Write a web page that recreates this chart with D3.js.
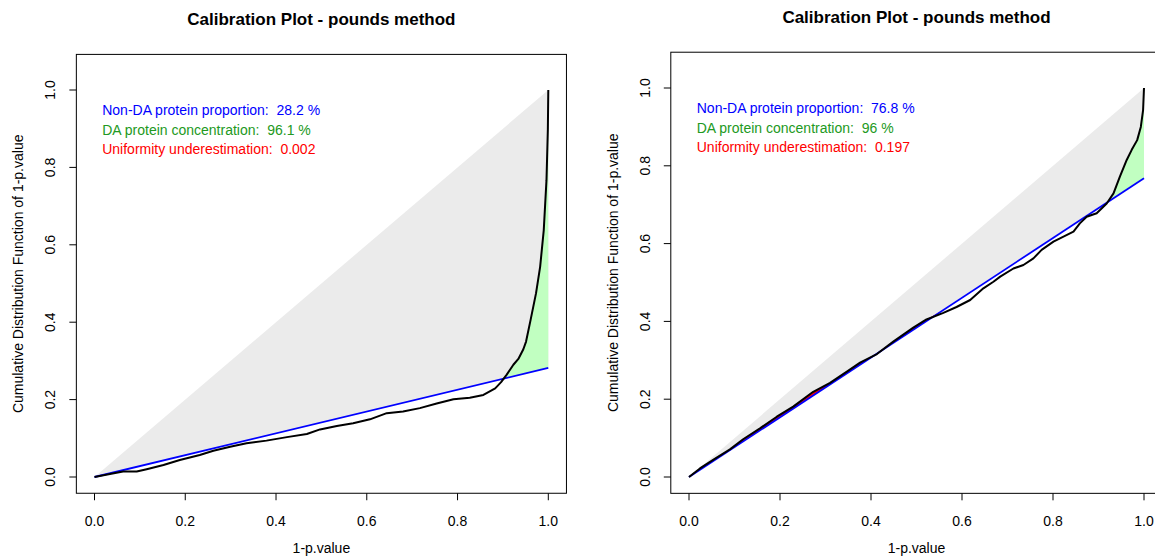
<!DOCTYPE html>
<html>
<head>
<meta charset="utf-8">
<script src="https://cdn.jsdelivr.net/npm/d3@7"></script>
<style>
  body { margin: 0; background: #fff; }
  svg text { font-family: "Liberation Sans", Arial, sans-serif; white-space: pre; }
</style>
</head>
<body>
<svg width="1155" height="559"></svg>
<script>
// values
var titles = ["Calibration Plot - pounds method", "Calibration Plot - pounds method"];
var pi0 = [0.282, 0.768];
var legendLines = [
    ["Non-DA protein proportion:  28.2 %", "DA protein concentration:  96.1 %", "Uniformity underestimation:  0.002"],
    ["Non-DA protein proportion:  76.8 %", "DA protein concentration:  96 %", "Uniformity underestimation:  0.197"]
];
var tickValues = [0, 0.2, 0.4, 0.6, 0.8, 1.0];

// cumulative distribution of 1-p.value (left)
var leftX = [0, 0.034, 0.063, 0.093, 0.115, 0.152, 0.188, 0.232, 0.262, 0.299, 0.335, 0.379, 0.424, 0.468, 0.497,
    0.534, 0.570, 0.607, 0.644, 0.680, 0.717, 0.754, 0.791, 0.827, 0.857, 0.883, 0.896, 0.908, 0.923, 0.934, 0.945,
    0.951, 0.961, 0.973, 0.982, 0.990, 0.996, 0.999, 1.0];
var leftY = [0, 0.008, 0.014, 0.014, 0.020, 0.031, 0.044, 0.057, 0.068, 0.078, 0.087, 0.094, 0.103, 0.111, 0.123,
    0.132, 0.139, 0.149, 0.165, 0.169, 0.178, 0.190, 0.201, 0.205, 0.212, 0.229, 0.245, 0.264, 0.290, 0.305, 0.330,
    0.350, 0.406, 0.475, 0.543, 0.638, 0.767, 0.897, 1.0];

// cumulative distribution of 1-p.value (right)
var rightX = [0, 0.024, 0.053, 0.09, 0.119, 0.156, 0.193, 0.229, 0.273, 0.31, 0.347, 0.376, 0.413, 0.449, 0.493,
    0.522, 0.559, 0.588, 0.618, 0.647, 0.669, 0.684, 0.713, 0.735, 0.757, 0.775, 0.801, 0.823, 0.845, 0.859, 0.874,
    0.896, 0.918, 0.933, 0.947, 0.962, 0.973, 0.985, 0.993, 0.998, 1.0];
var rightY = [0, 0.022, 0.044, 0.071, 0.097, 0.125, 0.155, 0.181, 0.219, 0.242, 0.271, 0.294, 0.316, 0.348, 0.384,
    0.405, 0.422, 0.437, 0.455, 0.485, 0.502, 0.515, 0.536, 0.545, 0.562, 0.584, 0.605, 0.618, 0.631, 0.652, 0.669,
    0.678, 0.703, 0.729, 0.772, 0.815, 0.841, 0.866, 0.9, 0.943, 1.0];

var panels = [
    { xr: [94.5, 548.3], yr: [477, 90], xs: leftX, ys: leftY },
    { xr: [689, 1144], yr: [477, 88], xs: rightX, ys: rightY }
];

var svg = d3.select("svg");
var legendColors = ["#0000ff", "#229922", "#ff0000"];

panels.forEach(function (p, i) {
    var x = d3.scaleLinear().domain([0, 1]).range(p.xr);
    var y = d3.scaleLinear().domain([0, 1]).range(p.yr);
    var g = svg.append("g");
    var pts = p.xs.map(function (v, k) { return { x: v, y: p.ys[k] }; });
    var blue = function (v) { return pi0[i] * v; };

    // grey zone between the diagonal and the pi0 line
    g.append("path")
        .attr("d", d3.line()([[x(0), y(0)], [x(1), y(1)], [x(1), y(pi0[i])]]) + "Z")
        .attr("fill", "#ebebeb");

    // green: curve above the pi0 line near 1; red: curve above it elsewhere
    var fill = function (keep) {
        return d3.area()
            .defined(function (d) { return keep(d.x); })
            .x(function (d) { return x(d.x); })
            .y0(function (d) { return y(blue(d.x)); })
            .y1(function (d) { return y(Math.max(d.y, blue(d.x))); });
    };
    g.append("path")
        .attr("d", fill(function (v) { return v >= 0.85; })(pts))
        .attr("fill", "#c1ffc1");
    g.append("path")
        .attr("d", fill(function (v) { return v <= 0.85; })(pts))
        .attr("fill", "#ff0000");

    g.append("line")
        .attr("x1", x(0)).attr("y1", y(0))
        .attr("x2", x(1)).attr("y2", y(pi0[i]))
        .attr("stroke", "#0000ff").attr("stroke-width", 1.8);

    g.append("path")
        .attr("d", d3.line().x(function (d) { return x(d.x); }).y(function (d) { return y(d.y); })(pts))
        .attr("fill", "none").attr("stroke", "#000").attr("stroke-width", 2)
        .attr("stroke-linejoin", "round");

    // box (R: 4% padding, ylim 0..1.05)
    var bx0 = x(-0.04), bx1 = x(1.04), by0 = y(-0.042), by1 = y(1.092);
    g.append("rect")
        .attr("x", bx0).attr("y", by1)
        .attr("width", bx1 - bx0).attr("height", by0 - by1)
        .attr("fill", "none").attr("stroke", "#000").attr("stroke-width", 1);

    // x axis
    tickValues.forEach(function (t) {
        g.append("line")
            .attr("x1", x(t)).attr("x2", x(t))
            .attr("y1", by0).attr("y2", by0 + 7)
            .attr("stroke", "#000");
        g.append("text")
            .attr("x", x(t)).attr("y", by0 + 33)
            .attr("text-anchor", "middle")
            .style("font-size", "14px")
            .text(d3.format(".1f")(t));
    });
    // y axis
    tickValues.forEach(function (t) {
        g.append("line")
            .attr("x1", bx0).attr("x2", bx0 - 7)
            .attr("y1", y(t)).attr("y2", y(t))
            .attr("stroke", "#000");
        g.append("text")
            .attr("transform", "translate(" + (bx0 - 21) + "," + y(t) + ") rotate(-90)")
            .attr("text-anchor", "middle")
            .style("font-size", "14px")
            .text(d3.format(".1f")(t));
    });

    g.append("text")
        .attr("x", (bx0 + bx1) / 2).attr("y", by1 - 29)
        .attr("text-anchor", "middle")
        .style("font-size", "17px").style("font-weight", "bold")
        .text(titles[i]);

    g.append("text")
        .attr("x", (bx0 + bx1) / 2).attr("y", 553)
        .attr("text-anchor", "middle")
        .style("font-size", "14px")
        .text("1-p.value");

    g.append("text")
        .attr("transform", "translate(" + (bx0 - 53) + "," + ((by0 + by1) / 2) + ") rotate(-90)")
        .attr("text-anchor", "middle")
        .style("font-size", "14px")
        .text("Cumulative Distribution Function of 1-p.value");

    legendLines[i].forEach(function (s, k) {
        g.append("text")
            .attr("x", x(0.017)).attr("y", y(0.95 - 0.05 * k) + 6)
            .style("font-size", "14px")
            .attr("fill", legendColors[k])
            .text(s);
    });
});
</script>
</body>
</html>
